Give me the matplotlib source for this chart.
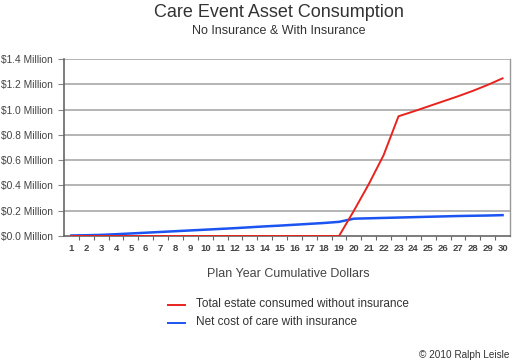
import matplotlib
matplotlib.use("Agg")
import matplotlib.pyplot as plt
import numpy as np

plt.rcParams['font.family'] = ['Liberation Sans', 'DejaVu Sans']

years = list(range(1, 31))
no_insurance = [0, 0, 0, 0, 0, 0, 0, 0, 0, 0, 0, 0, 0, 0, 0, 0, 0, 0, 0,
                0.20, 0.41, 0.64, 0.947, 0.985, 1.025, 1.065, 1.105, 1.148, 1.195, 1.247]
with_insurance = [0.004, 0.006, 0.009, 0.014, 0.020, 0.026, 0.032, 0.038, 0.044, 0.050,
                  0.056, 0.062, 0.069, 0.076, 0.082, 0.089, 0.096, 0.103, 0.112,
                  0.137, 0.140, 0.143, 0.146, 0.149, 0.152, 0.155, 0.158, 0.160, 0.162, 0.165]
y_ticks = [0.0, 0.2, 0.4, 0.6, 0.8, 1.0, 1.2, 1.4]
y_labels = [f"${v:.1f} Million" for v in y_ticks]
red_label = "Total estate consumed without insurance"
blue_label = "Net cost of care with insurance"

fig = plt.figure(figsize=(5.16, 3.64), dpi=100)
ax = fig.add_axes([64/516, 128/364, 446/516, 177/364])

for v in y_ticks[1:]:
    ax.axhline(v, color='#a8a8a8', lw=1.2, zorder=1)

ax.plot(years, no_insurance, color='#e8231d', lw=1.4, zorder=3)
ax.plot(years, with_insurance, color='#1b54f0', lw=1.8, zorder=2)

ax.set_xlim(0.5, 30.5)
ax.set_ylim(0, 1.4)
ax.set_yticks(y_ticks)
ax.set_yticklabels(y_labels)
ax.set_xticks(years)
ax.set_xticklabels([str(y) for y in years], fontsize=6.8, fontweight='bold', color='#444444')
ax.set_xticks(np.arange(1.5, 30.5, 1), minor=True)
ax.tick_params(axis='x', which='major', length=0, pad=6)
ax.tick_params(axis='x', which='minor', length=3, color='#666666', width=0.8)
ax.tick_params(axis='y', length=4, color='#888888', labelsize=7.4, labelcolor='#444444', pad=4)

for s in ['left', 'bottom']:
    ax.spines[s].set_color('#666666')
    ax.spines[s].set_linewidth(1.2)
ax.spines['right'].set_color('#999999')
ax.spines['right'].set_linewidth(1.0)
ax.spines['top'].set_visible(False)

fig.text(0.54, 0.965, "Care Event Asset Consumption", ha='center', va='center', fontsize=13, color='#333333')
fig.text(0.54, 0.915, "No Insurance & With Insurance", ha='center', va='center', fontsize=9, color='#333333')
fig.text(0.558, 0.248, "Plan Year Cumulative Dollars", ha='center', va='center', fontsize=9, color='#444444')

fig.lines.append(plt.Line2D([168/516, 185/516], [1-305/364, 1-305/364], color='#e8231d', lw=1.4, transform=fig.transFigure))
fig.lines.append(plt.Line2D([168/516, 185/516], [1-323/364, 1-323/364], color='#1b54f0', lw=1.4, transform=fig.transFigure))
fig.text(196/516, 1-304/364, red_label, ha='left', va='center', fontsize=8.5, color='#333333')
fig.text(196/516, 1-322/364, blue_label, ha='left', va='center', fontsize=8.5, color='#333333')
fig.text(509/516, 1-355/364, "© 2010 Ralph Leisle", ha='right', va='center', fontsize=7.2, color='#333333')

fig.savefig("out.png", dpi=100)
